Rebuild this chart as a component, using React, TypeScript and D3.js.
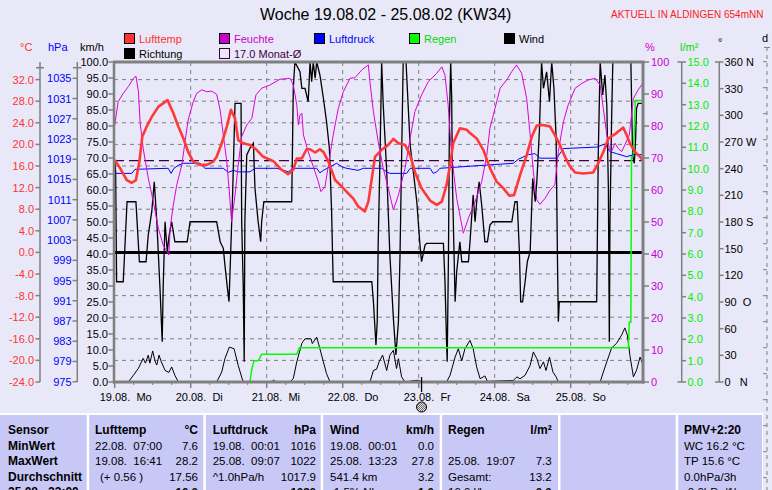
import React from "react";
import * as d3 from "d3";

const W = 772;
const H = 490;

// ---------- data (time in hours since 19.08. 00:00) ----------
const dayLabels = ["19.08.  Mo", "20.08.  Di", "21.08.  Mi", "22.08.  Do", "23.08.  Fr", "24.08.  Sa", "25.08.  So"];

const tempTicks = [-24, -20, -16, -12, -8, -4, 0, 4, 8, 12, 16, 20, 24, 28, 32];
const hpaTicks = [975, 979, 983, 987, 991, 995, 999, 1003, 1007, 1011, 1015, 1019, 1023, 1027, 1031, 1035];
const kmhTicks = [0, 5, 10, 15, 20, 25, 30, 35, 40, 45, 50, 55, 60, 65, 70, 75, 80, 85, 90, 95, 100];
const pctTicks = [0, 10, 20, 30, 40, 50, 60, 70, 80, 90, 100];
const rainTicks = [0, 1, 2, 3, 4, 5, 6, 7, 8, 9, 10, 11, 12, 13, 14, 15];
const degTicks = [0, 30, 60, 90, 120, 150, 180, 210, 240, 270, 300, 330, 360];
const degLabels = ["0   N", "30", "60", "90  O", "120", "150", "180 S", "210", "240", "270 W", "300", "330", "360 N"];

const monthAvg = 17.0;

const tempData: [number, number][] = [
  [0, 17.1], [1.7, 15.6], [3.8, 13.4], [5.4, 12.9], [6.7, 13.4], [7.8, 16.8], [8.7, 21.4], [10.1, 23.3], [11.7, 25.1],
  [13.8, 27.0], [15.3, 27.6], [16.7, 28.2], [18.5, 25.8], [20.1, 23.3], [21.7, 21.1], [23.2, 18.6], [24.8, 16.8],
  [26.9, 16.2], [29.1, 16.2], [31.1, 16.8], [32.2, 17.7], [33.8, 20.2], [35.4, 23.3], [36.7, 26.4], [38.0, 24.8],
  [39.0, 20.8], [40.6, 20.2], [42.7, 19.9], [44.8, 19.0], [46.9, 17.7], [50.1, 16.9], [52.7, 15.3], [54.8, 14.5],
  [56.4, 15.3], [57.5, 17.4], [59.1, 17.4], [60.6, 19.1], [61.7, 19.1], [63.3, 18.5], [64.8, 19.1], [65.9, 18.6],
  [67.5, 16.8], [69.6, 13.4], [71.7, 12.2], [73.8, 10.9], [75.3, 10.0], [76.9, 8.5], [79.0, 7.6], [80.1, 9.4],
  [81.2, 13.7], [82.2, 17.7], [84.3, 19.0], [86.4, 19.9], [88.0, 21.0], [89.6, 20.2], [91.7, 19.9], [93.3, 18.0],
  [94.8, 14.9], [96.9, 11.9], [99.6, 9.6], [101.7, 8.8], [103.3, 9.4], [104.8, 12.5], [105.9, 16.2], [106.9, 20.2],
  [109.0, 23.0], [111.2, 22.7], [112.2, 22.1], [114.3, 21.1], [116.4, 19.0], [118.5, 15.6], [120.6, 13.1],
  [122.7, 11.9], [124.6, 10.5], [126.1, 10.6], [128.0, 14.3], [130.1, 18.0], [131.7, 21.4], [133.3, 23.5],
  [135.3, 23.6], [137.5, 23.3], [139.0, 21.7], [140.6, 19.9], [142.2, 17.7], [143.8, 15.9], [145.4, 14.8],
  [148.0, 14.6], [151.1, 14.8], [152.7, 16.5], [154.3, 18.6], [155.9, 21.1], [158.0, 21.9], [159.0, 22.4],
  [160.6, 23.1], [161.7, 21.7], [162.7, 20.2], [164.3, 18.6], [165.9, 17.7], [166.9, 16.9],
];

const humData: [number, number][] = [
  [0, 80.3], [1.1, 87.6], [2.7, 90.2], [4.3, 92.3], [5.9, 94.9], [6.7, 95.6], [7.5, 90.7], [8.0, 81.3], [9.0, 73],
  [10.6, 63.7], [12.2, 56.3], [13.8, 48], [15.3, 42.8], [17.1, 39.7], [17.5, 48], [18.5, 55.3], [19.6, 61.6],
  [21.2, 67.8], [22.2, 75.1], [23.2, 81.9], [24.8, 87.6], [25.9, 90.2], [27.5, 91.3], [29.1, 90.7], [30.6, 90.9],
  [32.2, 89.9], [33.3, 85], [34.3, 77.2], [35.4, 68.8], [36.2, 59.5], [36.9, 50.1], [38.0, 58.4], [39.0, 67.8],
  [40.1, 76.7], [41.7, 80.3], [43.3, 82.4], [44.6, 89.7], [46.4, 91.8], [49.0, 92.8], [52.2, 94.6], [55.4, 94.9],
  [56.4, 92.8], [57.5, 86.6], [58.0, 80.3], [58.5, 83.4], [59.1, 84], [59.6, 77.2], [61.1, 72], [62.7, 67.3],
  [64.3, 62.6], [65.1, 59.5], [66.4, 61], [67.5, 67.8], [69.0, 77.2], [70.6, 85.5], [72.2, 90.7], [74.3, 94.9],
  [75.9, 95.1], [78.0, 97.5], [80.1, 99.1], [80.6, 93.8], [81.7, 84.5], [83.2, 75.1], [84.8, 66.8], [86.4, 60.5],
  [88.0, 53.8], [89.6, 58.4], [91.7, 66.8], [93.3, 76.2], [94.8, 84.5], [96.9, 89.7], [99.0, 93.8], [101.7, 96.5],
  [103.3, 98.5], [104.3, 95.9], [105.3, 86.6], [106.4, 70.9], [108.0, 57.4], [110.1, 46.5], [111.7, 51.2],
  [113.8, 56.3], [115.9, 62.6], [117.5, 70.9], [118.5, 79.3], [120.1, 85.5], [121.7, 91.8], [123.8, 94.4],
  [125.4, 97], [126.9, 99.1], [128.5, 96.5], [130.1, 88.6], [131.2, 77.2], [132.2, 65.7], [133.3, 56.9],
  [134.3, 55.5], [135.9, 57.4], [137.5, 60], [139.0, 61.6], [140.1, 72], [141.7, 81.3], [143.2, 86.6],
  [145.4, 91.8], [147.5, 93.3], [149.6, 94.4], [151.7, 94.9], [153.3, 92.8], [154.3, 85.5], [155.4, 77.2],
  [156.2, 73], [156.9, 72], [158.0, 74.6], [159.0, 73], [160.1, 72], [161.1, 74.1], [162.5, 77.2], [163.8, 88.6],
  [165.3, 91.3], [166.9, 93.5],
];

const pressData: [number, number][] = [
  [0, 1016.2], [5.4, 1016.2], [6.4, 1017.0], [16.9, 1017.2], [17.8, 1016.2], [18.7, 1017.2], [20.1, 1017.8],
  [21.7, 1018.2], [26.9, 1018.2], [28.5, 1017.2], [34.3, 1017.2], [35.9, 1016.4], [37.5, 1016.8], [39.0, 1016.5],
  [42.7, 1016.5], [44.3, 1017.2], [51.2, 1017.2], [53.3, 1016.8], [54.8, 1016.5], [56.4, 1017.2], [63.8, 1017.2],
  [64.8, 1016.3], [65.9, 1016.8], [68.0, 1017.5], [70.1, 1018.2], [71.7, 1017.5], [73.2, 1017.2], [76.9, 1016.8],
  [78.5, 1017.2], [84.3, 1017.2], [85.9, 1016.5], [86.9, 1016.2], [92.2, 1016.2], [93.3, 1017.2], [99.6, 1017.2],
  [100.6, 1016.2], [101.7, 1016.5], [102.7, 1017.2], [125.9, 1018.2], [127.5, 1019.0], [130.6, 1019.9],
  [132.7, 1020.1], [134.3, 1019.2], [139.6, 1019.2], [141.7, 1021.1], [152.2, 1021.4], [154.8, 1022.0],
  [156.4, 1020.5], [158.5, 1020.1], [161.7, 1019.5], [163.8, 1019.9], [166.9, 1019.9],
];

const dirData: [number, number][] = [
  [0, 249.7], [0.3, 236.6], [0.6, 112.8], [2.7, 112.8], [3.9, 202.8], [6.7, 202.8], [7.8, 135.3], [9.9, 135.3],
  [10.6, 165.4], [11.7, 191.6], [12.5, 225.3], [13.3, 180.3], [14.3, 105.4], [15.0, 45.3], [15.3, 105.4],
  [15.9, 180.3], [16.6, 146.6], [17.2, 165.4], [18.0, 180.3], [19.0, 157.8], [22.9, 157.8], [23.8, 180.3],
  [32.2, 180.3], [33.3, 157.8], [34.3, 150.4], [34.8, 131.6], [35.6, 105.4], [36.1, 90.3], [36.6, 142.9],
  [37.2, 206.7], [38.0, 313.5], [39.9, 313.5], [40.1, 180.3], [40.6, 105.4], [40.9, 22.8], [41.1, 180.3],
  [41.7, 255.4], [42.7, 262.9], [43.8, 268.5], [44.3, 217.9], [45.3, 180.3], [46.1, 157.8], [46.4, 180.3],
  [47.1, 202.8], [55.9, 202.8], [56.4, 330.4], [56.9, 360], [58.5, 349], [59.1, 330.4], [60.1, 330.4],
  [61.1, 315.3], [61.7, 360], [62.2, 337.8], [62.7, 360], [63.3, 341.7], [63.8, 360], [64.8, 345.4],
  [65.9, 319.2], [66.9, 292.8], [67.8, 262.9], [68.5, 191.6], [68.8, 142.9], [69.0, 112.8], [81.2, 112.8],
  [81.7, 90.3], [82.5, 41.6], [82.9, 67.8], [83.2, 154.1], [83.8, 255.4], [84.3, 360], [84.8, 311.6],
  [85.9, 236.6], [86.9, 142.9], [88.0, 71.7], [88.8, 30.4], [89.6, 67.8], [90.1, 142.9], [91.1, 360], [92.0, 360],
  [92.4, 330.4], [93.3, 266.6], [94.3, 236.6], [95.4, 202.8], [96.4, 154.1], [96.9, 135.3], [98.0, 154.1],
  [98.5, 156], [103.8, 156], [104.3, 112.8], [104.8, 45.3], [105.0, 22.8], [105.4, 142.9], [105.7, 292.8],
  [106.1, 360], [106.4, 322.9], [106.7, 217.9], [107.5, 90.3], [108.0, 124.1], [109.0, 157.8], [109.6, 135.3],
  [111.7, 135.3], [112.2, 157.8], [113.2, 210.4], [113.8, 180.3], [114.4, 206.7], [115.1, 225.3], [115.9, 198.8],
  [116.9, 157.8], [117.7, 157.8], [118.5, 176.6], [119.4, 180.3], [125.4, 180.3], [126.4, 202.8], [127.1, 202.8],
  [127.8, 146.6], [128.2, 90.3], [128.8, 90.3], [129.6, 112.8], [130.3, 135.3], [131.2, 146.6], [132.0, 229],
  [132.8, 202.8], [133.3, 225.3], [134.1, 281.6], [134.8, 360], [135.4, 330.4], [136.4, 349], [137.3, 315.3],
  [138.0, 360], [138.7, 330.4], [139.4, 274.2], [139.8, 142.9], [140.1, 67.8], [140.4, 90.3], [152.2, 90.3],
  [152.7, 255.4], [153.3, 360], [154.1, 322.9], [154.8, 345.4], [155.4, 311.6], [155.9, 217.9], [156.2, 45.3],
  [156.4, 180.3], [156.9, 292.8], [157.3, 360], [163.0, 360], [163.5, 264], [163.8, 250], [164.1, 246],
  [164.5, 274.2], [164.8, 307.9], [165.3, 313.5], [166.9, 313.5],
];

const windData: [number, number][] = [
  [0, 0], [4.3, 0], [5.9, 2.1], [7.5, 4.3], [9.0, 7.4], [9.7, 5.9], [10.6, 8.4], [11.1, 5.9], [12.0, 9.7],
  [12.8, 6.3], [13.3, 5.3], [14.0, 8.4], [14.6, 6.6], [15.9, 3.6], [17.1, 3.0], [18.0, 4.7], [19.0, 2.1],
  [20.1, 0], [32.2, 0], [33.8, 3.1], [34.8, 7.3], [36.2, 10.9], [37.7, 10.4], [39.0, 5.2], [40.4, 0.5], [41.1, 0],
  [49.5, 0], [50.2, 0.6], [51.0, 0], [55.4, 0], [56.4, 1.1], [57.5, 6.3], [59.1, 12.1], [60.1, 13.5], [62.0, 13.5],
  [62.4, 12.0], [63.8, 14.0], [64.8, 10.4], [65.9, 6.3], [66.9, 2.6], [68.0, 0], [80.6, 0], [81.7, 3.6],
  [82.7, 4.0], [83.5, 6.3], [84.6, 8.4], [85.9, 3.6], [86.9, 8.4], [88.0, 9.9], [89.0, 4.2], [89.6, 7.3],
  [90.6, 1.6], [91.7, 0], [95.0, 0.5], [96.0, 0.5], [96.9, 0], [104.8, 0], [105.9, 2.1], [107.5, 7.8],
  [108.5, 10.4], [109.6, 6.6], [110.6, 10.4], [112.2, 13.0], [113.2, 10.4], [114.3, 4.7], [115.4, 1.0],
  [116.9, 1.9], [117.7, 0.2], [125.9, 0.5], [127.0, 1.6], [128.0, 1.0], [129.6, 2.1], [131.2, 5.2], [132.2, 9.4],
  [133.3, 7.3], [134.3, 4.2], [135.4, 6.3], [136.2, 3.6], [137.3, 7.8], [138.4, 3.1], [139.4, 1.6], [140.1, 0],
  [153.3, 0], [154.3, 3.1], [155.4, 6.3], [156.9, 10.6], [158.5, 12.1], [160.1, 14.7], [161.1, 16.9],
  [161.9, 14.6], [162.7, 8.3], [163.8, 1.6], [164.8, 3.7], [165.9, 7.8], [166.9, 5.2],
];

const rainData: [number, number][] = [
  [0, 0], [42.7, 0], [43.3, 0.6], [44.0, 1.0], [45.4, 1.0], [46.4, 1.3], [57.5, 1.3], [58.3, 1.6], [162.2, 1.6],
  [162.5, 2.8], [163.0, 2.8], [163.2, 10.6], [163.8, 10.6], [164.4, 13.2], [166.9, 13.2],
];

const nowHour = 96.9;

const legendItems = [
  { label: "Lufttemp", color: "#ff3333", fill: "#ff3333", col: 0, row: 0 },
  { label: "Feuchte", color: "#cc00cc", fill: "#cc00cc", col: 1, row: 0 },
  { label: "Luftdruck", color: "#0000ff", fill: "#0000ff", col: 2, row: 0 },
  { label: "Regen", color: "#00dd00", fill: "#00ff00", col: 3, row: 0 },
  { label: "Wind", color: "#000000", fill: "#000000", col: 4, row: 0 },
  { label: "Richtung", color: "#000000", fill: "#000000", col: 0, row: 1 },
  { label: "17.0 Monat-Ø", color: "#400040", fill: "none", col: 1, row: 1 },
];

const tableCols = ["Sensor", "Lufttemp", "Luftdruck", "Wind", "Regen", "", "PMV+2:20"];
const tableUnits = ["", "°C", "hPa", "km/h", "l/m²", "", ""];
const rowLabels = ["MinWert", "MaxWert", "Durchschnitt", "25.08.  23:00"];
const tempRows = [["22.08.  07:00", "7.6"], ["19.08.  16:41", "28.2"], ["(+ 0.56 )", "17.56"], ["", "16.0"]];
const pressRows = [["19.08.  00:01", "1016"], ["25.08.  09:07", "1022"], ["^1.0hPa/h", "1017.9"], ["", "1020"]];
const windRows = [["19.08.  00:01", "0.0"], ["25.08.  13:23", "27.8"], ["541.4 km", "3.2"], ["-1.5% Nb", "1.0"]];
const rainRows = [["", ""], ["25.08.  19:07", "7.3"], ["Gesamt:", "13.2"], ["10.0 l/h", "0.0"]];
const pmvRows = ["WC 16.2 °C", "TP 15.6 °C", "0.0hPa/3h", "-0.0hPa/1h"];

// ---------- component ----------
export default function App() {
  const L = 114, R = 643, T = 62, B = 382;
  const x = d3.scaleLinear().domain([0, 168]).range([114.7, 646.7]);
  const yKmh = d3.scaleLinear().domain([0, 100]).range([B, T]);
  const yTemp = d3.scaleLinear().domain([-24, 32]).range([B, 79.6]);
  const yHpa = d3.scaleLinear().domain([975, 1035]).range([381.7, 78.3]);
  const yPct = d3.scaleLinear().domain([0, 100]).range([B, T]);
  const yRain = d3.scaleLinear().domain([0, 15]).range([B, T]);
  const yDeg = d3.scaleLinear().domain([0, 360]).range([B, T]);

  const mk = (ys: d3.ScaleLinear<number, number>) =>
    d3.line<[number, number]>().x((d) => x(d[0])).y((d) => ys(d[1]));

  const font = "'Liberation Sans', Arial, Helvetica, sans-serif";
  const grey = "#808080";
  const bg = "#e8e8f8";
  const panel = "#c8c8f6";

  const days = d3.range(0, 7);
  const minor = d3.range(6, 168, 6).filter((h) => h % 24 !== 0);

  const colEdges = [0, 87.7, 204.3, 321.7, 440.7, 559, 676.7, 763];
  const colLeft = [8, 95, 212.7, 330, 448, 0, 684];
  const colRight = [0, 198, 316, 434, 551.7, 0, 0];
  const rowY = [434, 449.5, 465, 481, 496];

  const txt = (props: any, s: string) => (
    <text {...props} style={{ whiteSpace: "pre" }}>{s}</text>
  );

  return (
    <div style={{ position: "fixed", left: 0, top: 0, width: W, height: H, overflow: "hidden", background: bg }}>
      <svg width={W} height={H} style={{ display: "block", fontFamily: font }}>
        <defs>
          <clipPath id="plot">
            <rect x={L} y={T} width={R - L} height={B - T} />
          </clipPath>
          <pattern id="dots" width="2" height="2" patternUnits="userSpaceOnUse">
            <rect width="2" height="2" fill="#e0e0e0" />
            <rect width="1" height="1" fill="#707070" />
            <rect x="1" y="1" width="1" height="1" fill="#707070" />
          </pattern>
        </defs>
        <rect width={W} height={H} fill={bg} />

        {/* Title */}
        {txt({ x: 260, y: 20, fontSize: 16, fill: "#000" }, "Woche 19.08.02 - 25.08.02 (KW34)")}
        {txt({ x: 611, y: 18, fontSize: 10, fill: "#ff2020" }, "AKTUELL IN ALDINGEN 654mNN")}

        {/* Legend */}
        {legendItems.map((it, i) => {
          const bx = 124 + it.col * 95;
          const by = 33 + it.row * 15;
          return (
            <g key={i}>
              <rect x={bx + 0.5} y={by + 0.5} width={10} height={10} fill={it.fill === "none" ? "none" : it.fill}
                stroke={it.fill === "none" ? "#400040" : "#000"} strokeWidth={1} />
              {txt({ x: bx + 15, y: by + 9.5, fontSize: 11, fill: it.color }, it.label)}
            </g>
          );
        })}

        {/* Axis headers */}
        {txt({ x: 20, y: 51, fontSize: 11, fill: "#ff3333" }, "°C")}
        {txt({ x: 48, y: 51, fontSize: 11, fill: "#0000ff" }, "hPa")}
        {txt({ x: 80, y: 51, fontSize: 11, fill: "#000" }, "km/h")}
        {txt({ x: 645, y: 51, fontSize: 11, fill: "#cc00cc" }, "%")}
        {txt({ x: 680, y: 51, fontSize: 11, fill: "#00dd00" }, "l/m²")}
        {txt({ x: 718, y: 46, fontSize: 11, fill: "#000" }, "°")}
        {txt({ x: 762, y: 42, fontSize: 11, fill: "#000" }, "d")}

        {/* Far-right dashed axis */}
        <line x1={767} x2={767} y1={47} y2={H} stroke={grey} strokeDasharray="4,4" />
        {d3.range(0, 17).map((k) => (
          <line key={k} x1={763} x2={767} y1={61.7 + k * 26} y2={61.7 + k * 26} stroke={grey} />
        ))}
        <line x1={764} x2={770} y1={47.5} y2={47.5} stroke={grey} />

        {/* °C axis */}
        <line x1={40} x2={40} y1={T} y2={B} stroke={grey} strokeWidth={1.5} />
        <line x1={36} x2={44} y1={67.7} y2={67.7} stroke={grey} strokeWidth={1.5} />
        {tempTicks.map((v) => (
          <g key={v}>
            <line x1={35.5} x2={40} y1={yTemp(v)} y2={yTemp(v)} stroke={grey} strokeWidth={1.5} />
            {txt({ x: 34, y: yTemp(v) + 4, fontSize: 11, fill: "#ff3333", textAnchor: "end" }, v.toFixed(1))}
          </g>
        ))}

        {/* hPa axis */}
        <line x1={77.3} x2={77.3} y1={T} y2={B} stroke={grey} strokeWidth={1.5} />
        <line x1={73} x2={81.5} y1={67.7} y2={67.7} stroke={grey} strokeWidth={1.5} />
        {hpaTicks.map((v) => (
          <g key={v}>
            <line x1={72.5} x2={77.3} y1={yHpa(v)} y2={yHpa(v)} stroke={grey} strokeWidth={1.5} />
            {txt({ x: 71.5, y: yHpa(v) + 4, fontSize: 11, fill: "#0000ff", textAnchor: "end" }, String(v))}
          </g>
        ))}

        {/* km/h axis */}
        {kmhTicks.map((v) => (
          <g key={v}>
            <line x1={108.5} x2={L} y1={yKmh(v)} y2={yKmh(v)} stroke={grey} strokeWidth={1.5} />
            {txt({ x: 108, y: yKmh(v) + 4, fontSize: 11, fill: "#000", textAnchor: "end" }, v.toFixed(1))}
          </g>
        ))}

        {/* % axis */}
        {pctTicks.map((v) => (
          <g key={v}>
            <line x1={R} x2={649} y1={yPct(v)} y2={yPct(v)} stroke={grey} strokeWidth={1.5} />
            {txt({ x: 651, y: yPct(v) + 4, fontSize: 11, fill: "#cc00cc" }, String(v))}
          </g>
        ))}

        {/* l/m² axis */}
        <line x1={681.7} x2={681.7} y1={T} y2={B} stroke={grey} strokeWidth={1.5} />
        {rainTicks.map((v) => (
          <g key={v}>
            <line x1={v === 0 || v === 15 ? 677.5 : 681.7} x2={686} y1={yRain(v)} y2={yRain(v)} stroke={grey} strokeWidth={1.5} />
            {txt({ x: 687.5, y: yRain(v) + 4, fontSize: 11, fill: "#00ee00" }, v.toFixed(1))}
          </g>
        ))}

        {/* degree axis */}
        <line x1={719.3} x2={719.3} y1={T} y2={B} stroke={grey} strokeWidth={1.5} />
        {degTicks.map((v, i) => (
          <g key={v}>
            <line x1={v === 0 || v === 360 ? 715 : 719.3} x2={723.5} y1={yDeg(v)} y2={yDeg(v)} stroke={grey} strokeWidth={1.5} />
            {txt({ x: 724.5, y: yDeg(v) + 4, fontSize: 11, fill: "#000" }, degLabels[i])}
          </g>
        ))}

        {/* Grid */}
        {tempTicks.filter((v) => v !== 0 && v !== -24).map((v) => (
          <line key={"h" + v} x1={L} x2={R} y1={yTemp(v)} y2={yTemp(v)} stroke={grey} strokeDasharray="4,4" />
        ))}
        {days.slice(1).map((d) => (
          <line key={"v" + d} x1={x(d * 24)} x2={x(d * 24)} y1={T} y2={B} stroke={grey} strokeDasharray="4,4" />
        ))}

        {/* Zero °C line and month average */}
        <line x1={L} x2={R} y1={yTemp(0)} y2={yTemp(0)} stroke="#000" strokeWidth={3} />
        <line x1={L} x2={R} y1={yTemp(monthAvg)} y2={yTemp(monthAvg)} stroke="#400040" strokeWidth={1.2} strokeDasharray="10,5" />

        {/* Series */}
        <g clipPath="url(#plot)" fill="none">
          <path d={mk(yKmh)(windData) || ""} stroke="#000" strokeWidth={1} />
          <path d={mk(yDeg)(dirData) || ""} stroke="#000" strokeWidth={1.3} />
          <path d={mk(yRain)(rainData) || ""} stroke="#00ff00" strokeWidth={1.5} />
          <path d={mk(yHpa)(pressData) || ""} stroke="#0000ff" strokeWidth={1} />
          <path d={mk(yPct)(humData) || ""} stroke="#dd00dd" strokeWidth={1} />
          <path d={mk(yTemp)(tempData) || ""} stroke="#ff3838" strokeWidth={2.6} strokeLinejoin="round" />
        </g>

        {/* Plot frame */}
        <line x1={L - 1} x2={R + 1.5} y1={T} y2={T} stroke={grey} strokeWidth={3} />
        <line x1={L - 1} x2={R + 1.5} y1={B} y2={B} stroke={grey} strokeWidth={3} />
        <line x1={L} x2={L} y1={T} y2={B + 1.5} stroke={grey} strokeWidth={2.5} />
        <line x1={R} x2={R} y1={T} y2={B + 1.5} stroke={grey} strokeWidth={3} />

        {/* X axis ticks and labels */}
        {days.map((d) => (
          <g key={"d" + d}>
            <line x1={x(d * 24)} x2={x(d * 24)} y1={B} y2={B + 6} stroke={grey} strokeWidth={1.5} />
            {txt({ x: x(d * 24) - 15, y: 401, fontSize: 11, fill: "#000" }, dayLabels[d])}
          </g>
        ))}
        {minor.map((h) => (
          <line key={"m" + h} x1={x(h)} x2={x(h)} y1={B} y2={B + 3} stroke={grey} />
        ))}

        {/* now marker */}
        <line x1={x(nowHour)} x2={x(nowHour)} y1={377} y2={392} stroke="#000" strokeWidth={1.3} />
        <circle cx={x(nowHour)} cy={407} r={5} fill="url(#dots)" stroke="#000" strokeWidth={1} />

        {/* Table */}
        <rect x={0} y={413} width={763} height={H - 413} fill="#ffffff" />
        {colEdges.slice(0, -1).map((cx, i) => (
          <rect key={"c" + i} x={cx + (i === 0 ? 0 : 1.5)} y={415} width={colEdges[i + 1] - cx - (i === 0 ? 1 : 2.5)}
            height={H - 415} fill={panel} />
        ))}
        {tableCols.map((c, i) => (
          <g key={"th" + i}>
            {c && txt({ x: colLeft[i], y: rowY[0], fontSize: 12, fontWeight: "bold", fill: "#000" }, c)}
            {tableUnits[i] && txt({ x: colRight[i], y: rowY[0], fontSize: 12, fontWeight: "bold", fill: "#000", textAnchor: "end" }, tableUnits[i])}
          </g>
        ))}
        {rowLabels.map((r, j) => (
          <g key={"r" + j}>
            {txt({ x: colLeft[0], y: rowY[j + 1], fontSize: 12, fontWeight: "bold", fill: "#000" }, r)}
            {[tempRows, pressRows, windRows, rainRows].map((rows, k) => (
              <g key={k}>
                {rows[j][0] && txt({ x: colLeft[k + 1] + (j === 2 && k === 0 ? 5 : 0), y: rowY[j + 1], fontSize: 11.5, fill: "#000" }, rows[j][0])}
                {rows[j][1] && txt({ x: colRight[k + 1], y: rowY[j + 1], fontSize: 11.5, fill: "#000", textAnchor: "end", fontWeight: j === 3 ? "bold" : "normal" }, rows[j][1])}
              </g>
            ))}
            {txt({ x: colLeft[6], y: rowY[j + 1], fontSize: 11.5, fill: "#000" }, pmvRows[j])}
          </g>
        ))}
      </svg>
    </div>
  );
}
